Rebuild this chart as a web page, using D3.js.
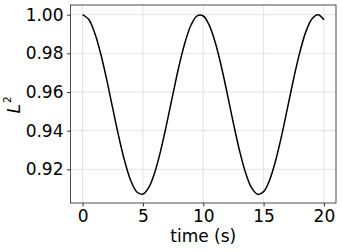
<!DOCTYPE html>
<html><head><meta charset="utf-8">
<script src="https://cdn.jsdelivr.net/npm/d3@7"></script>
<style>body{margin:0;background:#fff}svg{display:block}text{font-family:"DejaVu Sans",sans-serif;fill:#000}</style>
</head><body>
<svg id="c" width="342" height="252"></svg>
<script>
const times = [0,0.5,1,1.5,2,2.5,3,3.5,4,4.5,5,5.5,6,6.5,7,7.5,8,8.5,9,9.5,10,10.5,11,11.5,12,12.5,13,13.5,14,14.5,15,15.5,16,16.5,17,17.5,18,18.5,19,19.5,20];
const L2 = [1.0000,0.9976,0.9907,0.9799,0.9664,0.9515,0.9369,0.9240,0.9141,0.9083,0.9072,0.9108,0.9188,0.9304,0.9444,0.9593,0.9737,0.9859,0.9948,0.9994,0.9993,0.9945,0.9855,0.9732,0.9588,0.9438,0.9299,0.9184,0.9105,0.9071,0.9085,0.9145,0.9246,0.9376,0.9523,0.9671,0.9805,0.9911,0.9978,1.0000,0.9974];
const xTicks = [0,5,10,15,20];
const yTicks = [0.92,0.94,0.96,0.98,1.00];
const xLabel = "time (s)";

const svg = d3.select("#c");
const L = 70.5, R = 336, T = 5, B = 203;
const x = d3.scaleLinear().domain([-1, 21]).range([L, R]);
const y = d3.scaleLinear().domain([0.9026, 1.005]).range([B, T]);

// grid
svg.append("g").selectAll("line").data(xTicks).join("line")
  .attr("x1", d => x(d)).attr("x2", d => x(d)).attr("y1", T).attr("y2", B)
  .attr("stroke", "#dcdcdc").attr("stroke-width", 0.8);
svg.append("g").selectAll("line").data(yTicks).join("line")
  .attr("y1", d => y(d)).attr("y2", d => y(d)).attr("x1", L).attr("x2", R)
  .attr("stroke", "#dcdcdc").attr("stroke-width", 0.8);

// line
const line = d3.line().x((d, i) => x(times[i])).y(d => y(d)).curve(d3.curveCatmullRom);
svg.append("path").attr("d", line(L2)).attr("fill", "none").attr("stroke", "#000").attr("stroke-width", 1.5);

// axes
const xa = svg.append("g").attr("transform", `translate(0,${B})`)
  .call(d3.axisBottom(x).tickValues(xTicks).tickFormat(d3.format("d")).tickSize(3.5).tickPadding(3));
const ya = svg.append("g").attr("transform", `translate(${L},0)`)
  .call(d3.axisLeft(y).tickValues(yTicks).tickFormat(d3.format(".2f")).tickSize(3.5).tickPadding(3.5));
[xa, ya].forEach(g => {
  g.select(".domain").remove();
  g.selectAll("line").attr("stroke", "#000").attr("stroke-width", 0.8);
  g.selectAll("text").attr("font-size", 17).attr("font-family", "DejaVu Sans");
});
svg.append("rect").attr("x", L).attr("y", T).attr("width", R - L).attr("height", B - T)
  .attr("fill", "none").attr("stroke", "#222").attr("stroke-width", 0.8);

svg.append("text").attr("x", (L + R) / 2).attr("y", 241.5).attr("text-anchor", "middle")
  .attr("font-size", 17).text(xLabel);
const yl = svg.append("text").attr("transform", `translate(19.5,113.5) rotate(-90)`)
  .attr("text-anchor", "start").attr("font-size", 17);
yl.append("tspan").attr("font-style", "italic").text("L");
yl.append("tspan").attr("font-size", 10.5).attr("dy", -9).attr("dx", 1).text("2");
</script>
</body></html>
